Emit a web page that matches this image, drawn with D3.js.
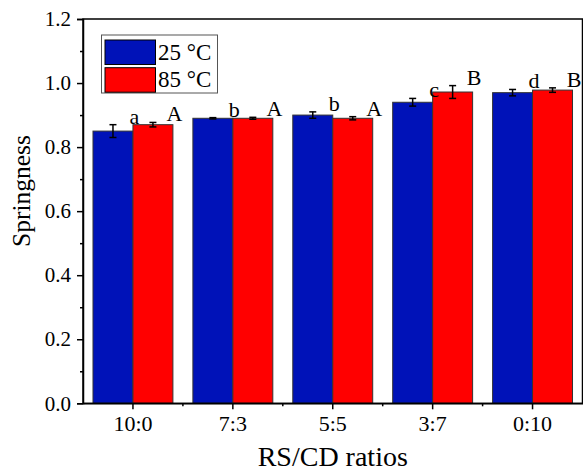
<!DOCTYPE html>
<html><head><meta charset="utf-8">
<script src="https://cdn.jsdelivr.net/npm/d3@7"></script>
<style>body{margin:0;background:#fff}svg{display:block}text{font-family:"Liberation Serif","Times New Roman",serif;fill:#000}</style>
</head><body><svg id="c" width="583" height="474"></svg>
<script>
const categories = ["10:0","7:3","5:5","3:7","0:10"];
const seriesNames = ["25 °C","85 °C"];
const values25 = [0.85,0.89,0.90,0.94,0.97];
const errors25 = [0.02,0.002,0.01,0.012,0.01];
const letters25 = ["a","b","b","c","d"];
const values85 = [0.87,0.89,0.89,0.972,0.978];
const errors85 = [0.007,0.003,0.005,0.02,0.007];
const letters85 = ["A","A","A","B","B"];
const yTicks = [0,0.2,0.4,0.6,0.8,1.0,1.2];
const colors = ["#0012b8","#ff0000"];

const svg = d3.select("#c");
const L=83, R=582.5, T=19, B=403.3;
const x = d3.scaleBand().domain(categories).range([L,R]).paddingInner(0.2).paddingOuter(0.1);
const y = d3.scaleLinear().domain([0,1.2]).range([B,T]);
const bw = x.bandwidth()/2;
const step = x.step();

const series = [
  {vals:values25, errs:errors25, lets:letters25, color:colors[0], off:0},
  {vals:values85, errs:errors85, lets:letters85, color:colors[1], off:1}
];

series.forEach(s=>{
  const g = svg.append("g");
  categories.forEach((c,i)=>{
    const x0 = x(c)+s.off*bw;
    g.append("rect").attr("x",x0).attr("y",y(s.vals[i])).attr("width",bw).attr("height",y(0)-y(s.vals[i]))
      .attr("fill",s.color).attr("stroke","#333").attr("stroke-width",1);
  });
});
series.forEach(s=>{
  categories.forEach((c,i)=>{
    const cx = x(c)+s.off*bw+bw/2;
    const y1=y(s.vals[i]+s.errs[i]), y2=y(s.vals[i]-s.errs[i]);
    svg.append("line").attr("x1",cx).attr("x2",cx).attr("y1",y1).attr("y2",y2).attr("stroke","#000").attr("stroke-width",1.5);
    [y1,y2].forEach(yy=>svg.append("line").attr("x1",cx-3.5).attr("x2",cx+3.5).attr("y1",yy).attr("y2",yy).attr("stroke","#000").attr("stroke-width",1.5));
    svg.append("text").attr("x",cx+21.5).attr("y",y1-1).attr("text-anchor","middle").attr("font-size",22).text(s.lets[i]);
  });
});

// frame
svg.append("rect").attr("x",L).attr("y",T).attr("width",R-L).attr("height",B-T).attr("fill","none").attr("stroke","#000").attr("stroke-width",1.5);

// y axis
const yAxis = d3.axisLeft(y).tickValues(yTicks).tickFormat(d3.format(".1f")).tickSize(6).tickPadding(6);
const ya = svg.append("g").attr("transform",`translate(${L},0)`).call(yAxis);
ya.attr("font-family",null);
ya.select(".domain").attr("stroke-width",1.5);
ya.selectAll(".tick line").attr("stroke-width",1.5);
ya.selectAll("text").attr("font-size",21);
const yMinor = d3.axisLeft(y).tickValues(d3.range(0.1,1.2,0.2)).tickSize(3).tickFormat("");
const ym = svg.append("g").attr("transform",`translate(${L},0)`).call(yMinor);
ym.select(".domain").remove(); ym.selectAll(".tick line").attr("stroke-width",1.5);

// x axis
const xAxis = d3.axisBottom(x).tickSize(6).tickPadding(6).tickSizeOuter(0);
const xa = svg.append("g").attr("transform",`translate(0,${B})`).call(xAxis);
xa.attr("font-family",null);
xa.select(".domain").attr("stroke-width",1.5);
xa.selectAll(".tick line").attr("stroke-width",1.5);
xa.selectAll("text").attr("font-size",22);
categories.forEach(c=>{
  const mx = x(c)+x.bandwidth()/2+step/2;
  if (mx < R-1) svg.append("line").attr("x1",mx).attr("x2",mx).attr("y1",B).attr("y2",B+3).attr("stroke","#000").attr("stroke-width",1.5);
});

// titles
svg.append("text").attr("x",(L+R)/2).attr("y",466).attr("text-anchor","middle").attr("font-size",28).text("RS/CD ratios");
svg.append("text").attr("transform",`translate(30,191) rotate(-90)`).attr("text-anchor","middle").attr("font-size",25.5).text("Springness");

// legend
const lg = svg.append("g");
lg.append("rect").attr("x",101.5).attr("y",35).attr("width",116).attr("height",58).attr("fill","#fff").attr("stroke","#555").attr("stroke-width",1);
seriesNames.forEach((n,i)=>{
  lg.append("rect").attr("x",105).attr("y",40+i*27.7).attr("width",50.5).attr("height",24.5).attr("fill",colors[i]).attr("stroke","#000").attr("stroke-width",1);
  lg.append("text").attr("x",158).attr("y",59.5+i*27.7).attr("font-size",23).text(n);
});
</script></body></html>
